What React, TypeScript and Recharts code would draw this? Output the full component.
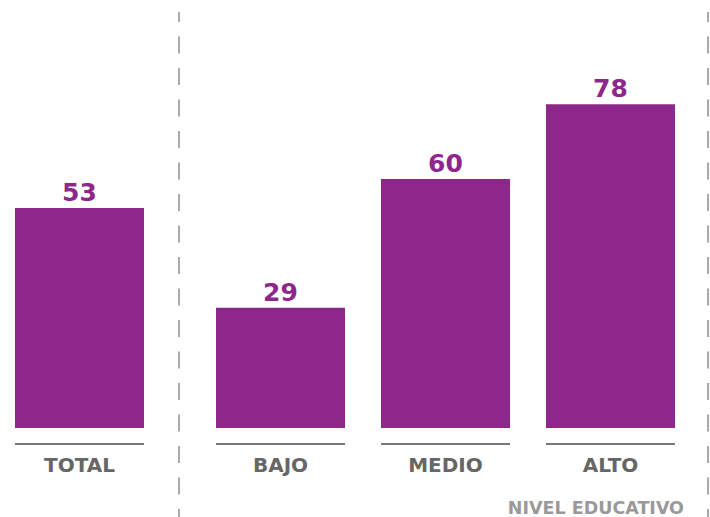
import { Bar, BarChart, LabelList, XAxis, YAxis } from 'recharts'

const totalCategories = ['TOTAL']
const totalValues = [53]
const levelCategories = ['BAJO', 'MEDIO', 'ALTO']
const levelValues = [29, 60, 78]
const axisTitle = 'NIVEL EDUCATIVO'

const PURPLE = '#8e278c'
const FONT = '"DejaVu Sans", sans-serif'
const BAR_SIZE = 129

const totalData = totalCategories.map((name, i) => ({ name, value: totalValues[i] }))
const levelData = levelCategories.map((name, i) => ({ name, value: levelValues[i] }))

function CategoryTick(props: any) {
  const { x, y, payload } = props
  return (
    <g>
      <line
        x1={x - BAR_SIZE / 2}
        x2={x + BAR_SIZE / 2}
        y1={y + 16}
        y2={y + 16}
        stroke="#777"
        strokeWidth={2}
      />
      <text
        x={x}
        y={y + 44}
        textAnchor="middle"
        fill="#666"
        fontFamily={FONT}
        fontWeight={700}
        fontSize={20}
      >
        {payload.value}
      </text>
    </g>
  )
}

function Panel({ data, width }: { data: { name: string; value: number }[]; width: number }) {
  return (
    <BarChart width={width} height={517} data={data} margin={{ top: 13, right: 0, bottom: 0, left: 0 }}>
      <XAxis
        dataKey="name"
        height={89}
        axisLine={false}
        tickLine={false}
        tickSize={0}
        tickMargin={0}
        interval={0}
        tick={<CategoryTick />}
      />
      <YAxis hide domain={[0, 100]} />
      <Bar dataKey="value" fill={PURPLE} barSize={BAR_SIZE} isAnimationActive={false}>
        <LabelList
          dataKey="value"
          position="top"
          offset={7}
          fill={PURPLE}
          fontFamily={FONT}
          fontWeight={700}
          fontSize={25}
        />
      </Bar>
    </BarChart>
  )
}

export default function App() {
  return (
    <div style={{ position: 'absolute', left: 0, top: 0, width: 710, height: 517, background: '#fff' }}>
      <div style={{ position: 'absolute', left: 0, top: 0 }}>
        <Panel data={totalData} width={159} />
      </div>
      <div style={{ position: 'absolute', left: 198, top: 0 }}>
        <Panel data={levelData} width={495} />
      </div>
      <svg
        width={710}
        height={517}
        style={{ position: 'absolute', left: 0, top: 0, pointerEvents: 'none' }}
      >
        {[179, 708].map((x) => (
          <line
            key={x}
            x1={x}
            x2={x}
            y1={12}
            y2={517}
            stroke="#aaa"
            strokeWidth={2}
            strokeDasharray="17 14.5"
            strokeDashoffset={7}
          />
        ))}
        <text
          x={684}
          y={514}
          textAnchor="end"
          fill="#999"
          fontFamily={FONT}
          fontWeight={700}
          fontSize={17.5}
        >
          {axisTitle}
        </text>
      </svg>
    </div>
  )
}
